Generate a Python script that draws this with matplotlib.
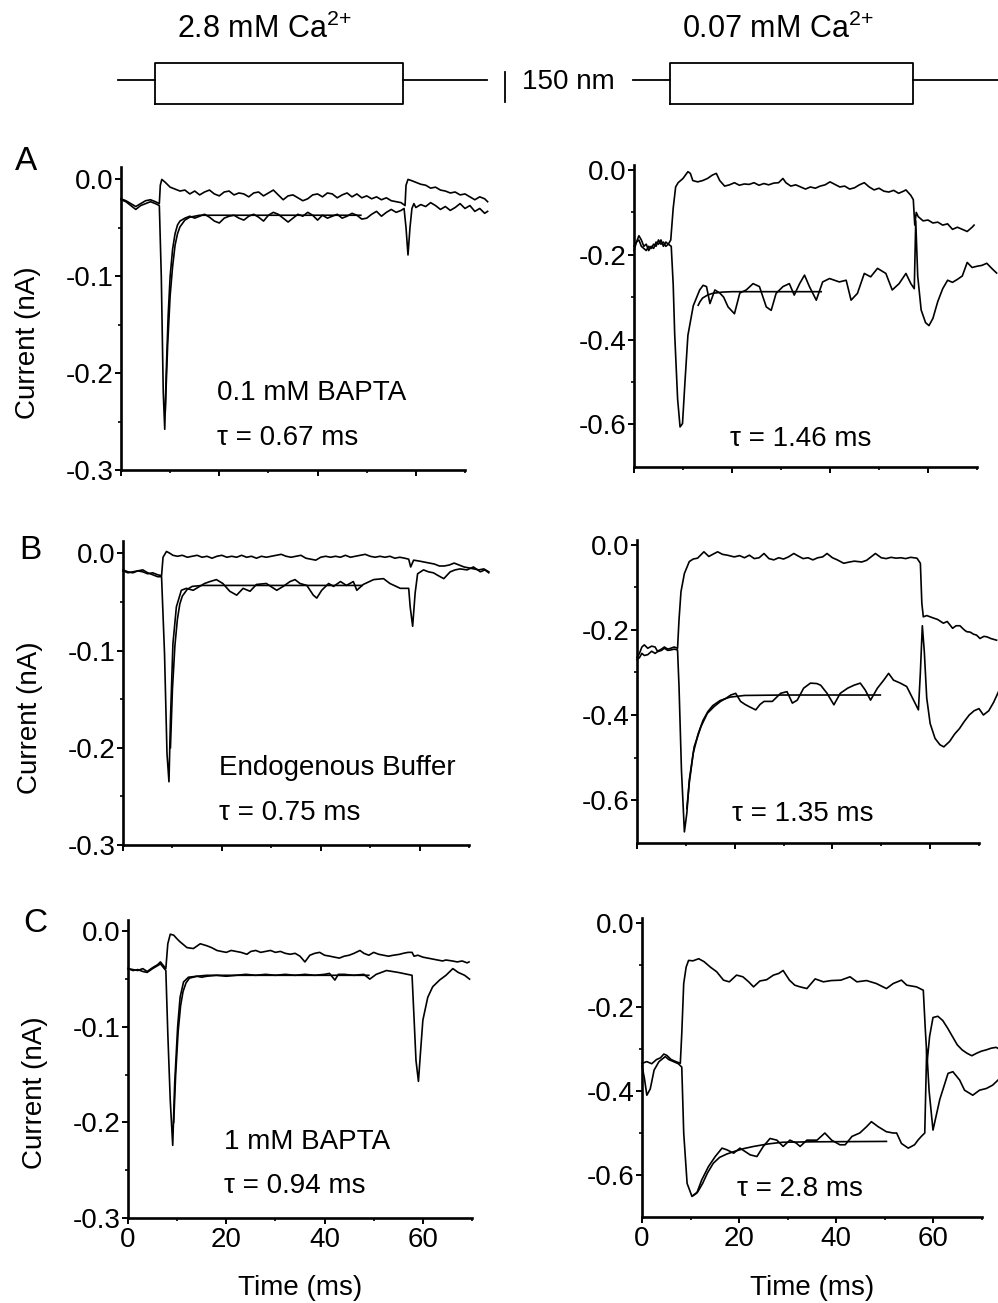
import matplotlib
matplotlib.use("Agg")
import matplotlib.pyplot as plt
from matplotlib.ticker import FixedLocator, FormatStrFormatter

plt.rcParams['font.family'] = ['Liberation Sans', 'DejaVu Sans']
plt.rcParams['font.size'] = 20
plt.rcParams['mathtext.fontset'] = 'custom'
plt.rcParams['mathtext.rm'] = 'Liberation Sans'
plt.rcParams['mathtext.default'] = 'regular'

# ---------------- data (time in ms, current in nA) ----------------
# stimulus schematic (step onset / offset in ms)
stim_28 = dict(start=-0.6, on=6.9, off=57.4, end=74.5)
stim_007 = dict(start=-0.2, on=7.3, off=57.0, end=74.3)
stim_base = 0.15

# A, 2.8 mM Ca, 0.1 mM BAPTA
a28_t1 = [0, 1, 2, 3, 4, 5, 6, 7, 7.8, 8.0, 8.3, 9, 10, 11, 12, 13, 14, 15, 16, 17, 18, 19, 20,
          21, 22, 23, 24, 25, 26, 27, 28, 29, 30, 31, 32, 33, 34, 35, 36, 37, 38, 39, 40, 41, 42,
          43, 44, 45, 46, 47, 48, 49, 50, 51, 52, 53, 54, 55, 56, 57, 57.8, 58.0, 58.4, 59, 60,
          61, 62, 63, 64, 65, 66, 67, 68, 69, 70, 71, 72, 73, 74, 74.6]
a28_i1 = [-0.020, -0.022, -0.025, -0.028, -0.025, -0.022, -0.021, -0.023, -0.025, -0.006, 0.000,
          -0.003, -0.008, -0.010, -0.012, -0.011, -0.015, -0.012, -0.016, -0.013, -0.011, -0.015,
          -0.017, -0.013, -0.012, -0.016, -0.014, -0.015, -0.018, -0.014, -0.013, -0.017, -0.014,
          -0.011, -0.016, -0.021, -0.017, -0.016, -0.019, -0.022, -0.020, -0.016, -0.015, -0.018,
          -0.014, -0.015, -0.019, -0.016, -0.014, -0.018, -0.015, -0.019, -0.017, -0.020, -0.018,
          -0.021, -0.019, -0.022, -0.023, -0.024, -0.027, -0.006, 0.000, -0.001, -0.003, -0.005,
          -0.006, -0.009, -0.008, -0.011, -0.012, -0.014, -0.013, -0.016, -0.015, -0.018, -0.021,
          -0.018, -0.020, -0.023]
a28_t2 = [0, 1, 2, 3, 4, 5, 6, 7, 7.8, 8.2, 8.6, 8.9, 9.2, 9.6, 10.0, 10.5, 11, 11.5, 12, 13, 14,
          15, 16, 17, 18, 19, 20, 21, 22, 23, 24, 25, 26, 27, 28, 29, 30, 31, 32, 33, 34, 35, 36,
          37, 38, 39, 40, 41, 42, 43, 44, 45, 46, 47, 48, 49, 50, 51, 52, 53, 54, 55, 56, 57,
          57.6, 58.0, 58.4, 58.8, 59.2, 59.6, 60, 61, 62, 63, 64, 65, 66, 67, 68, 69, 70, 71, 72,
          73, 74, 74.6]
a28_i2 = [-0.021, -0.023, -0.027, -0.031, -0.027, -0.025, -0.023, -0.025, -0.027, -0.10, -0.22,
          -0.258, -0.20, -0.14, -0.10, -0.072, -0.056, -0.047, -0.043, -0.040, -0.038, -0.040,
          -0.038, -0.036, -0.039, -0.043, -0.045, -0.040, -0.038, -0.037, -0.040, -0.042, -0.038,
          -0.036, -0.039, -0.043, -0.037, -0.034, -0.036, -0.040, -0.044, -0.040, -0.036, -0.038,
          -0.034, -0.037, -0.042, -0.037, -0.040, -0.038, -0.036, -0.040, -0.038, -0.035, -0.037,
          -0.041, -0.040, -0.036, -0.033, -0.038, -0.034, -0.031, -0.034, -0.032, -0.030, -0.050,
          -0.078, -0.050, -0.030, -0.025, -0.029, -0.026, -0.028, -0.024, -0.027, -0.031, -0.028,
          -0.032, -0.029, -0.025, -0.030, -0.027, -0.033, -0.030, -0.035, -0.033]
a28_fit_t = [9.0, 9.5, 10, 10.5, 11, 11.5, 12, 13, 14, 16, 48.8]
a28_fit_i = [-0.24, -0.17, -0.12, -0.09, -0.068, -0.056, -0.049, -0.042, -0.039, -0.037, -0.037]

# A, 0.07 mM Ca
a007_t1 = [0, 0.5, 1, 1.5, 2, 2.5, 3, 3.5, 4, 4.5, 5, 5.5, 6, 6.5, 7, 7.5, 8, 8.5, 9, 10, 11, 11.5,
           12, 13, 14, 15, 16, 16.8, 17.5, 18.5, 19.5, 20.5, 21.5, 22.5, 23.5, 24.5, 25.5, 26.5,
           27.5, 28.5, 29.5, 30.4, 31, 32, 33, 34, 35, 36, 37, 38, 39, 40, 41, 42, 43, 44, 45, 46,
           47, 48, 49, 50, 51, 52, 53, 54, 55, 55.5, 56.5, 57, 57.3, 57.6, 58, 59, 60, 61, 62, 63,
           64, 65, 66, 67, 68, 68.5, 69, 69.4]
a007_i1 = [-0.19, -0.17, -0.155, -0.165, -0.18, -0.175, -0.19, -0.18, -0.185, -0.17, -0.175,
           -0.165, -0.18, -0.17, -0.175, -0.165, -0.09, -0.04, -0.03, -0.02, -0.004, -0.008,
           -0.025, -0.028, -0.025, -0.02, -0.012, -0.008, -0.025, -0.038, -0.035, -0.03, -0.036,
           -0.033, -0.034, -0.03, -0.036, -0.032, -0.035, -0.031, -0.03, -0.02, -0.03, -0.038,
           -0.035, -0.04, -0.045, -0.04, -0.043, -0.038, -0.035, -0.028, -0.034, -0.04, -0.038,
           -0.045, -0.042, -0.035, -0.03, -0.04, -0.047, -0.043, -0.05, -0.052, -0.048, -0.055,
           -0.05, -0.047, -0.06, -0.07, -0.13, -0.10, -0.11, -0.12, -0.118, -0.125, -0.123, -0.13,
           -0.127, -0.14, -0.135, -0.14, -0.145, -0.14, -0.135, -0.13]
a007_t2 = [0, 0.5, 1, 1.5, 2, 2.5, 3, 3.5, 4, 4.5, 5, 5.5, 6, 6.5, 7, 7.6, 8, 8.3, 8.9, 9.4, 9.9,
           10.4, 11, 12.1, 13.4, 14.1, 14.8, 15.5, 16.5, 17.5, 18.3, 19.2, 20.5, 21.6, 22.9, 24.3,
           25.6, 27, 28, 29, 30.4, 31.7, 32.7, 33.8, 34.8, 35.8, 37.2, 38.5, 39.9, 41.9, 43.3,
           44.3, 45.6, 47, 48.3, 49.7, 51.4, 52.7, 54.1, 55.5, 56.5, 57.2, 57.5, 57.9, 58.6, 59.5,
           60.2, 61, 62, 63, 64, 65, 66, 67, 68, 69, 70, 71, 72, 73, 74]
a007_i2 = [-0.18, -0.17, -0.165, -0.18, -0.185, -0.19, -0.18, -0.185, -0.175, -0.18, -0.165,
           -0.175, -0.17, -0.18, -0.175, -0.18, -0.27, -0.386, -0.54, -0.606, -0.598, -0.50,
           -0.39, -0.32, -0.283, -0.272, -0.275, -0.315, -0.283, -0.29, -0.30, -0.323, -0.339,
           -0.29, -0.283, -0.268, -0.275, -0.323, -0.331, -0.291, -0.275, -0.268, -0.295, -0.268,
           -0.248, -0.275, -0.307, -0.264, -0.256, -0.264, -0.26, -0.307, -0.291, -0.244, -0.252,
           -0.232, -0.244, -0.283, -0.268, -0.244, -0.268, -0.28, -0.12, -0.25, -0.33, -0.36,
           -0.367, -0.35, -0.31, -0.28, -0.26, -0.265, -0.258, -0.25, -0.218, -0.23, -0.227,
           -0.225, -0.22, -0.232, -0.243]
a007_fit_t = [13.1, 13.5, 14, 15, 16, 18, 20, 38.2]
a007_fit_i = [-0.319, -0.31, -0.302, -0.295, -0.291, -0.288, -0.287, -0.287]

# B, 2.8 mM Ca, endogenous buffer
b28_t1 = [0, 1, 2, 3, 4, 5, 6, 7, 7.8, 8.1, 8.8, 9.5, 10.1, 11, 12, 13, 14, 15, 16, 17, 18, 19,
          20, 21, 22, 23, 24, 25, 26, 27, 28, 29, 30, 31, 32, 33, 34, 35, 36, 37, 38, 39, 40, 41,
          42, 43, 44, 45, 46, 47, 48, 49, 50, 51, 52, 53, 54, 55, 56, 57, 57.8, 58.2, 58.8, 60,
          61, 62, 63, 64, 65, 66, 67, 68, 69, 70, 71, 72, 73, 74]
b28_i1 = [-0.017, -0.019, -0.020, -0.018, -0.019, -0.021, -0.020, -0.022, -0.023, -0.004, 0.002,
          0.000, -0.002, -0.003, -0.002, -0.004, -0.003, -0.002, -0.004, -0.003, -0.005, -0.003,
          -0.002, -0.004, -0.003, -0.004, -0.002, -0.004, -0.003, -0.005, -0.003, -0.004, -0.003,
          -0.002, -0.001, -0.003, -0.004, -0.003, -0.002, -0.005, -0.006, -0.007, -0.004, -0.003,
          -0.004, -0.003, -0.004, -0.002, -0.004, -0.003, -0.002, -0.001, -0.003, -0.004, -0.003,
          -0.004, -0.003, -0.005, -0.004, -0.005, -0.006, -0.014, -0.007, -0.008, -0.009, -0.010,
          -0.011, -0.013, -0.013, -0.012, -0.010, -0.012, -0.014, -0.015, -0.016, -0.017, -0.016,
          -0.019]
b28_t2 = [0, 1, 2, 3, 4, 5, 6, 7, 7.8, 8.4, 8.9, 9.3, 9.6, 10.1, 10.8, 11.8, 12.8, 14.2, 15.5,
          16.5, 17.6, 18.9, 20.2, 21.6, 23, 24.3, 25.7, 27, 29, 31.1, 32.4, 33.8, 34.8, 35.8,
          37.2, 38.5, 39.2, 40.2, 41.6, 42.6, 44, 45.2, 46.6, 47.3, 48.6, 50.7, 52.7, 54, 56.1,
          57.8, 58.1, 58.6, 59.1, 59.6, 60.8, 61.8, 62.8, 63.8, 64.9, 66.2, 67.2, 68.2, 69.6,
          70.9, 72.3, 73.2, 74]
b28_i2 = [-0.018, -0.020, -0.019, -0.018, -0.017, -0.020, -0.022, -0.024, -0.024, -0.103, -0.206,
          -0.235, -0.171, -0.093, -0.055, -0.038, -0.036, -0.038, -0.034, -0.031, -0.029, -0.027,
          -0.031, -0.039, -0.043, -0.036, -0.039, -0.032, -0.031, -0.038, -0.034, -0.029, -0.027,
          -0.031, -0.033, -0.043, -0.046, -0.038, -0.031, -0.034, -0.029, -0.033, -0.029, -0.038,
          -0.032, -0.027, -0.026, -0.031, -0.036, -0.036, -0.055, -0.075, -0.041, -0.021, -0.017,
          -0.019, -0.020, -0.023, -0.026, -0.019, -0.017, -0.016, -0.017, -0.014, -0.019, -0.017,
          -0.020]
b28_fit_t = [9.6, 10, 10.5, 11, 11.5, 12, 13, 14, 16, 48.3]
b28_fit_i = [-0.20, -0.14, -0.095, -0.068, -0.052, -0.044, -0.037, -0.034, -0.033, -0.033]

# B, 0.07 mM Ca
b007_t1 = [0, 0.5, 1, 1.5, 2.2, 3, 3.7, 4.2, 5, 5.6, 6.3, 6.9, 7.6, 8.3, 8.6, 9.0, 9.7, 10.7,
           11.5, 12.4, 13.7, 14.7, 15.5, 16.5, 17.5, 18.5, 19.9, 21, 22, 23, 24, 25, 26, 27, 28,
           29, 30, 31, 32.1, 33, 34, 35, 36, 37, 38, 38.9, 40, 41, 42.3, 43.5, 44.5, 46, 47, 48.8,
           50, 51, 52, 53, 54, 55, 56, 57.3, 58, 58.3, 58.6, 59.3, 60.7, 61.5, 62.7, 63.5, 64.6,
           65.3, 66.1, 67, 67.5, 68.2, 68.9, 69.5, 70.2, 71, 71.6, 72.4, 73.6]
b007_i1 = [-0.265, -0.255, -0.24, -0.235, -0.243, -0.238, -0.24, -0.25, -0.245, -0.24, -0.245,
           -0.243, -0.24, -0.243, -0.176, -0.11, -0.067, -0.039, -0.033, -0.031, -0.016, -0.027,
           -0.022, -0.016, -0.022, -0.024, -0.028, -0.025, -0.03, -0.024, -0.032, -0.03, -0.02,
           -0.032, -0.035, -0.03, -0.033, -0.028, -0.02, -0.026, -0.032, -0.03, -0.035, -0.03,
           -0.028, -0.02, -0.03, -0.035, -0.043, -0.04, -0.038, -0.04, -0.036, -0.02, -0.03,
           -0.032, -0.029, -0.031, -0.03, -0.032, -0.029, -0.031, -0.043, -0.137, -0.169, -0.166,
           -0.172, -0.175, -0.184, -0.18, -0.196, -0.19, -0.19, -0.2, -0.204, -0.205, -0.21,
           -0.212, -0.22, -0.215, -0.216, -0.22, -0.224]
b007_t2 = [0, 0.5, 1, 1.5, 2.2, 3, 3.7, 4.2, 5, 5.6, 6.3, 6.9, 7.6, 8.3, 8.6, 9.1, 9.7, 10.2,
           10.7, 11.7, 13.1, 14.4, 15.8, 17.1, 18.3, 19.2, 20.2, 21.2, 22.1, 22.9, 24.3, 25.2, 26,
           27.7, 29.4, 30.7, 31.8, 32.8, 34.1, 35.5, 36.8, 37.6, 38.9, 40.3, 41.6, 43.1, 44.4,
           45.7, 46.7, 47.8, 49.2, 50.5, 51.5, 52.5, 53.9, 55.2, 56.6, 57.6, 58.0, 58.4, 58.8,
           59.3, 60, 61, 62, 62.8, 64, 65, 66, 67, 68, 69, 70, 70.9, 72, 73, 74]
b007_i2 = [-0.27, -0.265, -0.255, -0.26, -0.258, -0.25, -0.255, -0.251, -0.248, -0.243, -0.248,
           -0.247, -0.245, -0.247, -0.333, -0.53, -0.675, -0.631, -0.553, -0.475, -0.427, -0.396,
           -0.38, -0.368, -0.36, -0.353, -0.349, -0.368, -0.375, -0.38, -0.388, -0.375, -0.368,
           -0.368, -0.349, -0.345, -0.372, -0.365, -0.337, -0.325, -0.326, -0.33, -0.349, -0.376,
           -0.349, -0.337, -0.33, -0.325, -0.341, -0.365, -0.337, -0.318, -0.302, -0.318, -0.325,
           -0.333, -0.365, -0.388, -0.30, -0.19, -0.25, -0.36, -0.42, -0.455, -0.47, -0.475,
           -0.462, -0.445, -0.432, -0.415, -0.40, -0.39, -0.385, -0.40, -0.39, -0.37, -0.345]
b007_fit_t = [10.2, 10.7, 11.5, 12.5, 13.5, 14.5, 15.5, 17, 19, 22, 30, 49.8]
b007_fit_i = [-0.62, -0.56, -0.49, -0.445, -0.413, -0.392, -0.378, -0.366, -0.358, -0.354,
              -0.353, -0.353]

# C, 2.8 mM Ca, 1 mM BAPTA
c28_t1 = [0, 1, 2, 3, 3.9, 5, 6, 6.6, 7.7, 8.1, 8.6, 9.3, 10, 10.6, 11.3, 12, 13.3, 14.7, 16,
          17, 18.1, 19, 20, 21, 22, 23, 24.2, 25, 26, 27, 28, 29, 30, 31, 32, 33, 34, 35, 36, 37,
          38, 39, 40, 41.1, 42, 43, 44, 45, 46, 47.2, 48, 49, 50, 51, 52, 53, 54, 55.3, 56, 57,
          57.8, 58.2, 59, 60, 61, 62, 63, 64, 64.7, 66, 67, 68, 69, 69.4]
c28_i1 = [-0.039, -0.040, -0.041, -0.039, -0.042, -0.038, -0.035, -0.032, -0.039, -0.013, -0.003,
          -0.004, -0.008, -0.011, -0.014, -0.017, -0.018, -0.013, -0.015, -0.017, -0.020, -0.021,
          -0.022, -0.020, -0.021, -0.022, -0.024, -0.021, -0.020, -0.022, -0.021, -0.020, -0.022,
          -0.021, -0.023, -0.024, -0.023, -0.026, -0.032, -0.025, -0.023, -0.022, -0.025, -0.026,
          -0.027, -0.028, -0.026, -0.025, -0.023, -0.020, -0.023, -0.025, -0.022, -0.024, -0.025,
          -0.026, -0.025, -0.024, -0.023, -0.022, -0.022, -0.026, -0.025, -0.027, -0.028, -0.029,
          -0.030, -0.031, -0.030, -0.031, -0.032, -0.031, -0.033, -0.032]
c28_t2 = [0, 1, 2, 3, 3.9, 5, 6, 6.6, 7.7, 8.1, 8.6, 9.1, 9.5, 10.1, 10.6, 11.3, 12.3, 14, 15,
          16, 18, 20, 22, 24, 26, 28, 30, 32, 34, 36, 38, 40, 41, 42.1, 42.8, 44, 46, 48, 49.2,
          50.5, 52.6, 55, 57.8, 58.2, 58.6, 59.1, 59.5, 60, 61, 62, 63.4, 64.7, 66.1, 67.2, 68.5,
          69.5]
c28_i2 = [-0.039, -0.041, -0.040, -0.042, -0.043, -0.039, -0.036, -0.034, -0.041, -0.107, -0.177,
          -0.224, -0.159, -0.10, -0.069, -0.053, -0.048, -0.047, -0.048, -0.047, -0.046, -0.047,
          -0.046, -0.045, -0.046, -0.045, -0.046, -0.045, -0.046, -0.045, -0.046, -0.045, -0.044,
          -0.051, -0.045, -0.045, -0.046, -0.045, -0.050, -0.045, -0.041, -0.043, -0.046, -0.09,
          -0.135, -0.157, -0.128, -0.093, -0.069, -0.058, -0.051, -0.046, -0.039, -0.043, -0.046,
          -0.050]
c28_fit_t = [9.3, 9.7, 10.2, 10.7, 11.2, 11.8, 12.5, 14, 16, 49]
c28_fit_i = [-0.20, -0.15, -0.105, -0.078, -0.063, -0.054, -0.049, -0.047, -0.046, -0.046]

# C, 0.07 mM Ca
c007_t1 = [0, 1, 2, 3, 3.8, 4.5, 5.1, 6, 7, 7.9, 8.2, 8.6, 9.1, 9.6, 10.5, 11.7, 12.8, 14.1,
           15.4, 16.8, 18, 19.5, 20.8, 22, 23, 24.3, 25.7, 27.1, 28.2, 29.1, 30.4, 31.5, 32.6, 34,
           35.7, 37.4, 39, 41, 42.9, 44.3, 46.3, 48.3, 50.4, 51.8, 53.5, 54.6, 56.6, 58.0, 58.4,
           58.8, 59.3, 60, 61, 62, 63, 64, 65, 66, 67, 68, 69, 70, 71, 72, 73, 74]
c007_i1 = [-0.334, -0.33, -0.335, -0.325, -0.321, -0.312, -0.315, -0.325, -0.33, -0.334, -0.263,
           -0.144, -0.105, -0.089, -0.09, -0.085, -0.092, -0.105, -0.116, -0.136, -0.14, -0.124,
           -0.128, -0.14, -0.152, -0.138, -0.135, -0.124, -0.12, -0.113, -0.136, -0.148, -0.152,
           -0.156, -0.133, -0.14, -0.137, -0.136, -0.128, -0.14, -0.137, -0.144, -0.156, -0.144,
           -0.136, -0.148, -0.152, -0.16, -0.25, -0.33, -0.27, -0.225, -0.222, -0.232, -0.25,
           -0.27, -0.29, -0.302, -0.31, -0.316, -0.31, -0.305, -0.302, -0.298, -0.296, -0.302]
c007_t2 = [0, 0.5, 1, 1.7, 2.5, 3.5, 4.8, 5.5, 6.5, 7.5, 8.2, 8.6, 9.3, 10.3, 11.3, 12.3, 13.7,
           15.1, 16.5, 17.5, 18.9, 20.2, 22.3, 23.7, 25, 26.4, 27.8, 29.1, 30.5, 31.8, 32.6, 34,
           36.1, 37.7, 39.1, 40.8, 41.9, 43.3, 44.9, 46.3, 47.3, 48.7, 50.4, 51.8, 52.5, 53.5,
           54.9, 56.2, 56.9, 57.6, 58.3, 58.7, 59.2, 60, 61.4, 63.1, 64.1, 65.5, 66.5, 68.2, 69.6,
           71, 72.3, 73.4]
c007_i2 = [-0.34, -0.37, -0.41, -0.395, -0.35, -0.33, -0.318, -0.325, -0.33, -0.335, -0.343,
           -0.50, -0.62, -0.651, -0.643, -0.612, -0.58, -0.556, -0.536, -0.54, -0.548, -0.536,
           -0.552, -0.556, -0.532, -0.513, -0.517, -0.532, -0.517, -0.524, -0.532, -0.517, -0.517,
           -0.5, -0.517, -0.528, -0.528, -0.508, -0.5, -0.485, -0.473, -0.485, -0.497, -0.5, -0.5,
           -0.525, -0.536, -0.528, -0.517, -0.508, -0.5, -0.30, -0.40, -0.493, -0.42, -0.358,
           -0.354, -0.374, -0.398, -0.41, -0.398, -0.394, -0.386, -0.374]
c007_fit_t = [10.6, 11.5, 12.5, 13.5, 14.7, 16, 17.5, 19, 21, 23, 26, 29, 35, 50.4]
c007_fit_i = [-0.648, -0.64, -0.62, -0.595, -0.572, -0.558, -0.55, -0.544, -0.537, -0.532,
              -0.526, -0.522, -0.521, -0.52]

# panel annotations
notes_28 = ["0.1 mM BAPTA", "Endogenous Buffer", "1 mM BAPTA"]
taus_28 = ["0.67", "0.75", "0.94"]
taus_007 = ["1.46", "1.35", "2.8"]
letters = ["A", "B", "C"]

# ---------------- layout (pixel boxes: x0, x1, ytop, ybottom) ----------------
W, H = 998, 1303
left_boxes = [(121, 465, 167.4, 470), (123, 469, 541.3, 845), (128, 472, 919.5, 1218)]
right_boxes = [(634, 977, 164.9, 466.8), (637, 979, 539.9, 842.5), (642, 981.5, 918, 1217)]
letter_pos = [(15, 146), (19, 535), (23, 908)]


def px_axes(fig, box):
    x0, x1, y0, y1 = box
    return fig.add_axes([x0 / W, 1 - y1 / H, (x1 - x0) / W, (y1 - y0) / H])


def style(ax, left_col, bottom_row):
    for s in ['top', 'right']:
        ax.spines[s].set_visible(False)
    for s in ['left', 'bottom']:
        ax.spines[s].set_linewidth(1.9)
    ax.set_xlim(0, 70)
    ax.xaxis.set_major_locator(FixedLocator([0, 20, 40, 60]))
    ax.xaxis.set_minor_locator(FixedLocator([10, 30, 50, 70]))
    if left_col:
        ax.set_ylim(-0.3, 0.0124)
        ax.yaxis.set_major_locator(FixedLocator([0, -0.1, -0.2, -0.3]))
        ax.yaxis.set_minor_locator(FixedLocator([-0.05, -0.15, -0.25]))
    else:
        ax.set_ylim(-0.7, 0.012)
        ax.yaxis.set_major_locator(FixedLocator([0, -0.2, -0.4, -0.6]))
        ax.yaxis.set_minor_locator(FixedLocator([-0.1, -0.3, -0.5]))
    ax.yaxis.set_major_formatter(FormatStrFormatter('%.1f'))
    ax.tick_params(which='major', length=4, width=1.4, labelsize=20)
    ax.tick_params(which='minor', length=2.5, width=1.2)
    ax.tick_params(axis='y', pad=1.5)
    ax.tick_params(axis='x', pad=2.5, labelbottom=bottom_row)
    ax.patch.set_alpha(0)


fig = plt.figure(figsize=(W / 100, H / 100), dpi=100)

left_data = [(a28_t1, a28_i1, a28_t2, a28_i2, a28_fit_t, a28_fit_i),
             (b28_t1, b28_i1, b28_t2, b28_i2, b28_fit_t, b28_fit_i),
             (c28_t1, c28_i1, c28_t2, c28_i2, c28_fit_t, c28_fit_i)]
right_data = [(a007_t1, a007_i1, a007_t2, a007_i2, a007_fit_t, a007_fit_i),
              (b007_t1, b007_i1, b007_t2, b007_i2, b007_fit_t, b007_fit_i),
              (c007_t1, c007_i1, c007_t2, c007_i2, c007_fit_t, c007_fit_i)]

lw = 1.2
for row in range(3):
    last = row == 2
    # 2.8 mM Ca column
    ax = px_axes(fig, left_boxes[row])
    t1, i1, t2, i2, ft, fi = left_data[row]
    for t, i in [(t1, i1), (t2, i2), (ft, fi)]:
        ax.plot(t, i, color='black', lw=lw, clip_on=False)
    style(ax, True, last)
    ax.set_ylabel("Current (nA)", fontsize=20, va='center')
    ax.yaxis.set_label_coords(-0.27, 0.42)
    ax.text(19.5, -0.228, notes_28[row], fontsize=20, va='baseline')
    ax.text(19.5, -0.274, "\u03c4 = %s ms" % taus_28[row], fontsize=20, va='baseline')
    if last:
        ax.set_xlabel("Time (ms)", fontsize=20, va='center')
        ax.xaxis.set_label_coords(0.5, -0.235)

    # 0.07 mM Ca column
    ax = px_axes(fig, right_boxes[row])
    t1, i1, t2, i2, ft, fi = right_data[row]
    for t, i in [(t1, i1), (t2, i2), (ft, fi)]:
        ax.plot(t, i, color='black', lw=lw, clip_on=False)
    style(ax, False, last)
    ax.text(19.5, -0.65, "\u03c4 = %s ms" % taus_007[row], fontsize=20, va='baseline')
    if last:
        ax.set_xlabel("Time (ms)", fontsize=20, va='center')
        ax.xaxis.set_label_coords(0.5, -0.238)

    lx, ly = letter_pos[row]
    fig.text(lx / W, 1 - ly / H, letters[row], fontsize=24, ha='left', va='top')

# stimulus schematic on top of each column
for box, stim in [(left_boxes[0], stim_28), (right_boxes[0], stim_007)]:
    hx = fig.add_axes([box[0] / W, 1 - 104 / H, (box[1] - box[0]) / W, 41 / H])
    hx.set_xlim(0, 70)
    hx.set_ylim(-1, 1)
    hx.axis('off')
    on, off = stim['on'], stim['off']
    hx.plot([stim['start'], on], [stim_base, stim_base], color='black', lw=1.3, clip_on=False)
    hx.plot([off, stim['end']], [stim_base, stim_base], color='black', lw=1.3, clip_on=False)
    hx.plot([on, on, off, off, on], [-1, 1, 1, -1, -1], color='black', lw=1.3, clip_on=False)
    if stim is stim_28:
        # 150 nm scale bar
        hx.plot([78.2, 78.2], [0.56, -0.9], color='black', lw=1.3, clip_on=False)
        hx.text(81.6, 0.07, "150 nm", fontsize=20, va='center', ha='left')

fig.text(264 / W, 1 - 38 / H, "2.8 mM Ca$^{2{+}}$", fontsize=22, ha='center', va='baseline')
fig.text(778 / W, 1 - 38 / H, "0.07 mM Ca$^{2{+}}$", fontsize=22, ha='center', va='baseline')

fig.savefig("out.png", dpi=100, facecolor='white')
